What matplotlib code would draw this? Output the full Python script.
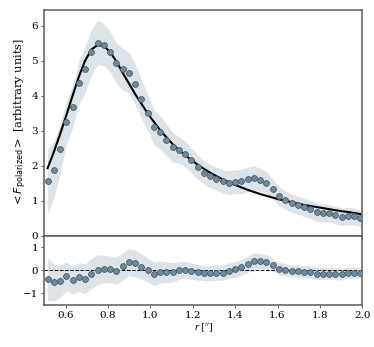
"""
plot.py - azimuthally averaged polarized flux profile with model fit + residuals
"""
import numpy as np
import matplotlib
matplotlib.use("Agg")
import matplotlib.pyplot as plt

# ----------------------------- data ----------------------------------------
# radial bins [arcsec]
radius = [0.515, 0.545, 0.574, 0.604, 0.633, 0.663, 0.692, 0.722, 0.751, 0.781,
          0.810, 0.840, 0.869, 0.899, 0.928, 0.958, 0.987, 1.017, 1.046, 1.076,
          1.105, 1.135, 1.164, 1.194, 1.223, 1.253, 1.282, 1.312, 1.341, 1.371,
          1.400, 1.430, 1.459, 1.489, 1.518, 1.548, 1.577, 1.607, 1.636, 1.666,
          1.695, 1.725, 1.754, 1.784, 1.813, 1.843, 1.872, 1.902, 1.931, 1.961,
          1.990]

# measured <F_polarized> profile
flux = [1.57, 1.88, 2.47, 3.24, 3.68, 4.37, 4.75, 5.25, 5.52, 5.46,
        5.26, 4.93, 4.76, 4.66, 4.33, 3.90, 3.52, 3.10, 2.95, 2.74,
        2.53, 2.45, 2.34, 2.15, 1.97, 1.80, 1.71, 1.63, 1.55, 1.52,
        1.54, 1.55, 1.61, 1.65, 1.59, 1.52, 1.34, 1.13, 1.02, 0.93,
        0.87, 0.81, 0.75, 0.67, 0.66, 0.64, 0.59, 0.54, 0.56, 0.56,
        0.50]

# uncertainty (half width of the shaded band)
flux_err = [0.92, 0.80, 0.70, 0.62, 0.60, 0.62, 0.65, 0.65, 0.64, 0.60,
            0.58, 0.58, 0.60, 0.58, 0.58, 0.55, 0.52, 0.50, 0.48, 0.45,
            0.42, 0.38, 0.36, 0.35, 0.34, 0.33, 0.33, 0.33, 0.33, 0.34,
            0.34, 0.35, 0.35, 0.35, 0.33, 0.31, 0.28, 0.27, 0.26, 0.26,
            0.26, 0.26, 0.26, 0.26, 0.26, 0.25, 0.25, 0.25, 0.25, 0.24,
            0.24]

# best-fit model curve
model = [1.93, 2.40, 2.90, 3.45, 4.00, 4.55, 5.00, 5.32, 5.45, 5.42,
         5.25, 4.98, 4.66, 4.35, 4.05, 3.77, 3.50, 3.25, 3.02, 2.81,
         2.62, 2.45, 2.30, 2.16, 2.03, 1.91, 1.80, 1.70, 1.61, 1.53,
         1.45, 1.38, 1.31, 1.25, 1.19, 1.14, 1.09, 1.04, 1.00, 0.96,
         0.92, 0.88, 0.85, 0.82, 0.79, 0.76, 0.73, 0.70, 0.68, 0.65,
         0.62]

# residuals (data - model)
resid = [-0.38, -0.52, -0.48, -0.26, -0.43, -0.29, -0.36, -0.14, 0.03, 0.06,
         0.04, -0.01, 0.17, 0.36, 0.30, 0.16, 0.03, -0.16, -0.07, -0.07,
         -0.09, 0.00, 0.03, -0.04, -0.07, -0.13, -0.12, -0.10, -0.10, -0.01,
         0.04, 0.13, 0.26, 0.41, 0.39, 0.36, 0.25, 0.07, 0.03, -0.03,
         -0.03, -0.06, -0.07, -0.14, -0.14, -0.14, -0.14, -0.17, -0.10, -0.10,
         -0.10]

# ----------------------------- style ---------------------------------------
BAND_COLOR  = "#dee3e8"
POINT_FACE  = "#6f8a9b"
POINT_EDGE  = "#465c6b"
SPINE_COLOR = "#5a5a5a"

plt.rcParams["font.family"] = "DejaVu Serif"
plt.rcParams["mathtext.fontset"] = "dejavusans"

r = np.array(radius)
f = np.array(flux)
e = np.array(flux_err)
res = np.array(resid)

fig = plt.figure(figsize=(3.74, 3.47), dpi=100)
ax = fig.add_axes([0.1187, 0.3207, 0.85, 0.6505])
axr = fig.add_axes([0.1187, 0.121, 0.85, 0.1997], sharex=ax)

# ----------------------------- main panel ----------------------------------
ax.fill_between(r, f - e, f + e, color=BAND_COLOR, lw=0, zorder=1)
ax.plot(r, model, color="black", lw=1.5, zorder=3)
ax.plot(r, f, "o", ms=4.2, mfc=POINT_FACE, mec=POINT_EDGE, mew=0.6, zorder=4)
ax.set_xlim(0.5, 2.0)
ax.set_ylim(0, 6.45)
ax.set_yticks([0, 1, 2, 3, 4, 5, 6])
ax.set_ylabel(r"$<F_{\rm polarized}>$ [arbitrary units]", fontsize=8.2, labelpad=2)
ax.tick_params(labelbottom=False)

# ----------------------------- residual panel ------------------------------
axr.fill_between(r, res - e, res + e, color=BAND_COLOR, lw=0, zorder=1)
axr.axhline(0, color="black", lw=0.7, ls="--", zorder=2)
axr.plot(r, res, "o", ms=4.2, mfc=POINT_FACE, mec=POINT_EDGE, mew=0.6, zorder=4)
axr.set_ylim(-1.5, 1.5)
axr.set_yticks([-1, 0, 1])
axr.set_xticks([0.6, 0.8, 1.0, 1.2, 1.4, 1.6, 1.8, 2.0])
axr.set_xticklabels(["0.6", "0.8", "1.0", "1.2", "1.4", "1.6", "1.8", "2.0"])
axr.set_xlabel(r"$r$ [$^{\prime\prime}$]", fontsize=6.8, labelpad=1)

for a in (ax, axr):
    a.tick_params(labelsize=7.5, length=2.5, width=0.7, color=SPINE_COLOR, pad=2)
    for s in a.spines.values():
        s.set_color(SPINE_COLOR)
        s.set_linewidth(1.1)

fig.savefig("out.png", dpi=100)
